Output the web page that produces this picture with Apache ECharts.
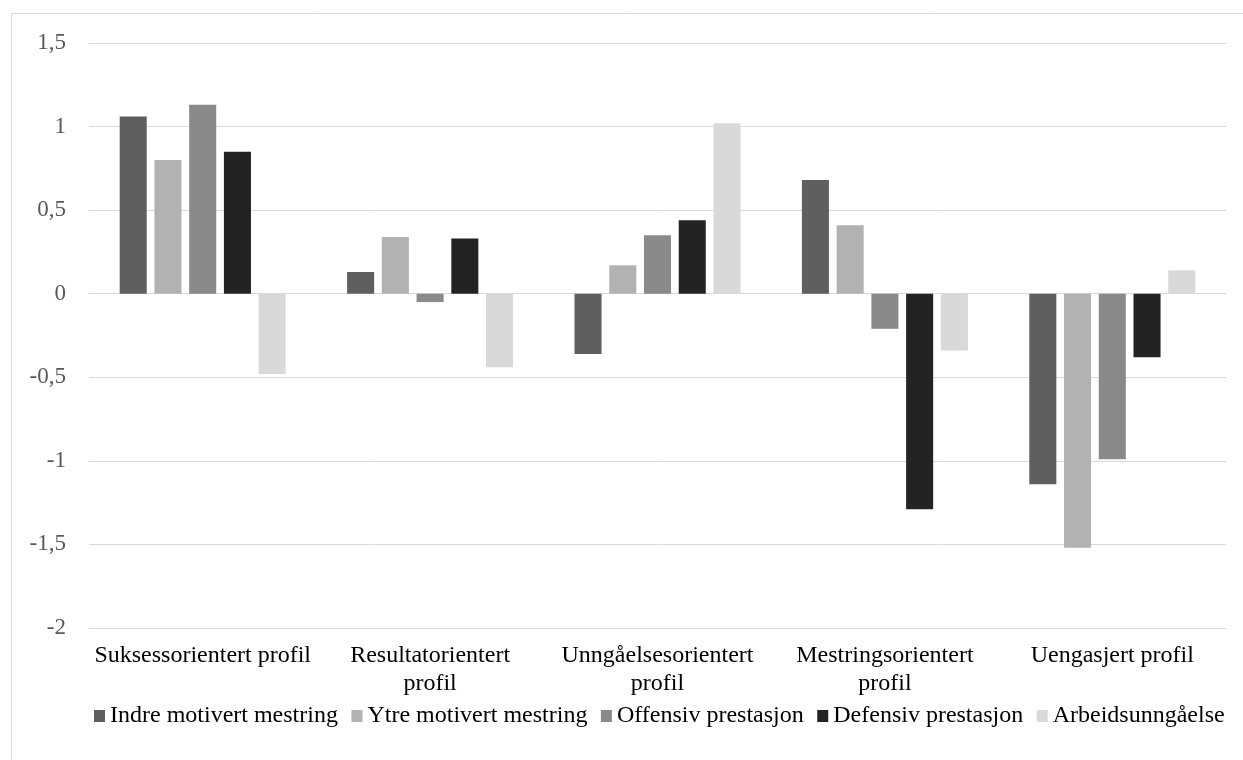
<!DOCTYPE html>
<html>
<head>
<meta charset="utf-8">
<title>Motivasjonsprofiler</title>
<script src="https://cdn.jsdelivr.net/npm/echarts@6/dist/echarts.min.js"></script>
<style>
  html, body { margin: 0; padding: 0; background: #ffffff; }
  #chart { width: 1243px; height: 760px; }
</style>
</head>
<body>
<div id="chart"></div>
<script>
// Profile groups along the x axis
const categories = [
  'Suksessorientert profil',
  'Resultatorientert\nprofil',
  'Unngåelsesorientert\nprofil',
  'Mestringsorientert\nprofil',
  'Uengasjert profil'
];

// Mean scores per profile, one array per motivation dimension
const indreMotivertMestring = [1.06, 0.13, -0.36, 0.68, -1.14];
const ytreMotivertMestring  = [0.80, 0.34, 0.17, 0.41, -1.52];
const offensivPrestasjon    = [1.13, -0.05, 0.35, -0.21, -0.99];
const defensivPrestasjon    = [0.85, 0.33, 0.44, -1.29, -0.38];
const arbeidsunngaaelse     = [-0.48, -0.44, 1.02, -0.34, 0.14];

const seriesNames = [
  'Indre motivert mestring',
  'Ytre motivert mestring',
  'Offensiv prestasjon',
  'Defensiv prestasjon',
  'Arbeidsunngåelse'
];
const seriesValues = [
  indreMotivertMestring,
  ytreMotivertMestring,
  offensivPrestasjon,
  defensivPrestasjon,
  arbeidsunngaaelse
];
const seriesColors = ['#5f5f5f', '#b2b2b2', '#8a8a8a', '#232323', '#d9d9d9'];

const serif = '"Liberation Serif", "Times New Roman", serif';

const chart = echarts.init(document.getElementById('chart'), null, { renderer: 'canvas' });

chart.setOption({
  backgroundColor: '#ffffff',
  animation: false,
  graphic: [{
    type: 'rect',
    shape: { x: 11.5, y: 13.5, width: 1300, height: 800 },
    style: { fill: 'none', stroke: '#d9d9d9', lineWidth: 1 },
    silent: true
  }],
  grid: { left: 89, right: 17, top: 43, bottom: 132, containLabel: false },
  legend: {
    bottom: 27,
    left: 89,
    itemWidth: 11,
    itemHeight: 12,
    itemGap: 13.5,
    icon: 'rect',
    textStyle: { fontFamily: serif, fontSize: 24, color: '#000000' },
    data: seriesNames
  },
  xAxis: {
    type: 'category',
    data: categories,
    axisLine: { show: false, onZero: false },
    axisTick: { show: false },
    splitLine: { show: false },
    axisLabel: {
      interval: 0,
      margin: 13,
      fontFamily: serif,
      fontSize: 24,
      lineHeight: 28.5,
      color: '#000000',
      align: 'center',
      verticalAlign: 'top'
    }
  },
  yAxis: {
    type: 'value',
    min: -2,
    max: 1.5,
    interval: 0.5,
    axisLine: { show: false },
    axisTick: { show: false },
    splitLine: { lineStyle: { color: '#d9d9d9', width: 1 } },
    axisLabel: {
      margin: 23,
      fontFamily: serif,
      fontSize: 23,
      color: '#595959',
      formatter: v => String(v).replace('.', ',')
    }
  },
  series: seriesNames.map((name, i) => ({
    name,
    type: 'bar',
    data: seriesValues[i],
    barCategoryGap: '27%',
    barGap: '28.5%',
    itemStyle: { color: seriesColors[i] }
  }))
});
</script>
</body>
</html>
